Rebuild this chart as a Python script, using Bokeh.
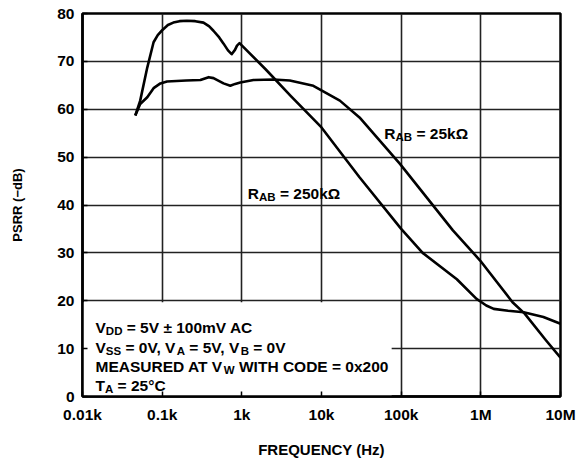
from bokeh.plotting import figure
from bokeh.models import FixedTicker, Label
from bokeh.embed import file_html
from bokeh.resources import INLINE

# ---------------- data ----------------
X_TICKS = [10, 100, 1000, 10000, 100000, 1000000, 10000000]
X_TICK_LABELS = ["0.01k", "0.1k", "1k", "10k", "100k", "1M", "10M"]
Y_TICKS = [0, 10, 20, 30, 40, 50, 60, 70, 80]

# R_AB = 250 kOhm
FREQ_250K = [46, 53, 65, 78, 88, 100, 118, 138, 165, 204, 260, 330, 390, 440, 520, 590,
             670, 745, 820, 870, 935, 2000, 4100, 10000, 30000, 100000, 186000,
             500000, 883000, 1000000, 1170000, 1450000, 2200000, 3450000, 6100000, 10000000]
PSRR_250K = [58.7, 61.8, 68.7, 74.0, 75.5, 76.5, 77.6, 78.1, 78.4, 78.5, 78.4, 78.1, 77.3,
             76.4, 75.0, 73.7, 72.3, 71.5, 72.4, 73.3, 73.8, 68.3, 62.8, 56.2, 45.8, 35.0, 30.0,
             24.5, 20.4, 19.8, 19.0, 18.3, 17.9, 17.6, 16.6, 15.2]

# R_AB = 25 kOhm
FREQ_25K = [46, 53, 65, 78, 95, 115, 200, 302, 383, 441, 589, 716, 826, 955, 1400, 2500,
            4000, 7900, 17000, 30000, 96600, 446000, 980000, 2500000, 3550000, 6600000, 10000000]
PSRR_25K = [58.7, 61.1, 62.5, 64.4, 65.4, 65.8, 66.0, 66.1, 66.7, 66.5, 65.4, 64.9, 65.3,
            65.6, 66.1, 66.2, 66.0, 64.9, 61.8, 58.3, 48.6, 34.7, 28.4, 19.7, 17.3, 11.7, 8.1]

FONT = "Liberation Sans"

p = figure(width=577, height=461, x_axis_type="log", x_range=(10, 1e7), y_range=(0, 80),
           min_border_left=82, min_border_right=17, min_border_top=13, min_border_bottom=65,
           output_backend="svg", toolbar_location=None)
p.title.visible = False
p.background_fill_color = "white"
p.border_fill_color = "white"
p.outline_line_color = "black"
p.outline_line_width = 2.5

p.xaxis.ticker = FixedTicker(ticks=X_TICKS)
p.xaxis.major_label_overrides = {t: l for t, l in zip(X_TICKS, X_TICK_LABELS)}
p.yaxis.ticker = FixedTicker(ticks=Y_TICKS)

for ax in (p.xaxis, p.yaxis):
    ax.axis_line_width = 2.5
    ax.axis_line_color = "black"
    ax.major_tick_line_width = 1.5
    ax.major_tick_line_color = "black"
    ax.major_tick_in = 5
    ax.major_tick_out = 0
    ax.minor_tick_line_color = None
    ax.major_label_text_font = FONT
    ax.major_label_text_font_style = "bold"
    ax.major_label_text_font_size = "15.5px"
    ax.major_label_text_color = "black"
    ax.axis_label_text_font = FONT
    ax.axis_label_text_font_style = "bold"
    ax.axis_label_text_color = "black"
p.xaxis.major_label_standoff = 9
p.yaxis.major_label_standoff = 8

p.yaxis.axis_label = "PSRR (−dB)"
p.yaxis.axis_label_text_font_size = "13px"
p.yaxis.axis_label_standoff = 29

p.xaxis.axis_label = "FREQUENCY (Hz)"
p.xaxis.axis_label_text_font_size = "15px"
p.xaxis.axis_label_standoff = 15

p.grid.grid_line_color = "#222222"
p.grid.grid_line_width = 1.6
p.grid.grid_line_alpha = 1.0

# white panel behind the conditions text
p.quad(left=10, right=76000, bottom=0, top=19.7, fill_color="white", line_color=None)

p.line(FREQ_250K, PSRR_250K, line_color="black", line_width=2.6, line_join="round")
p.line(FREQ_25K, PSRR_25K, line_color="black", line_width=2.6, line_join="round")

W = {' ': 278, ',': 278, '.': 278, '=': 584, '±': 549, '°': 400, 'x': 556, 'm': 889, 'k': 556,
     'A': 722, 'B': 722, 'C': 722, 'D': 722, 'E': 667, 'H': 722, 'I': 278, 'M': 833,
     'O': 778, 'R': 722, 'S': 667, 'T': 611, 'U': 722, 'V': 667, 'W': 944, 'Ω': 768}


def tw(s, fs):
    return sum(W.get(c, 556) for c in s) * fs / 1000.0


def rich(x, y, pieces, x0=0.0, y0=0.0, fs=15.5, sfs=11.5, shift=3.5):
    off = x0
    for txt, sub in pieces:
        size = sfs if sub else fs
        lead = len(txt) - len(txt.lstrip(" "))
        shown = txt.strip(" ")
        if shown:
            p.add_layout(Label(x=x, y=y, x_offset=off + tw(" " * lead, size),
                               y_offset=y0 - (shift if sub else 0), text=shown,
                               text_font=FONT, text_font_style="bold",
                               text_font_size=f"{size}px", text_color="black",
                               text_align="left", text_baseline="alphabetic"))
        off += tw(txt, size)


BOX_LINES = [
    [("V", 0), ("DD", 1), (" = 5V ± 100mV AC", 0)],
    [("V", 0), ("SS", 1), (" = 0V, V", 0), ("A", 1), (" = 5V, V", 0), ("B", 1), (" = 0V", 0)],
    [("MEASURED AT V", 0), ("W", 1), (" WITH CODE = 0x200", 0)],
    [("T", 0), ("A", 1), (" = 25°C", 0)],
]
BOX_OFFSETS = [69, 49.5, 30.5, 11]
for line, yo in zip(BOX_LINES, BOX_OFFSETS):
    rich(10, 0, line, x0=13, y0=yo)

rich(1190, 42.5, [("R", 0), ("AB", 1), (" = 250kΩ", 0)])
rich(61500, 55.0, [("R", 0), ("AB", 1), (" = 25kΩ", 0)])

open("out.html", "w").write(file_html(p, INLINE))
